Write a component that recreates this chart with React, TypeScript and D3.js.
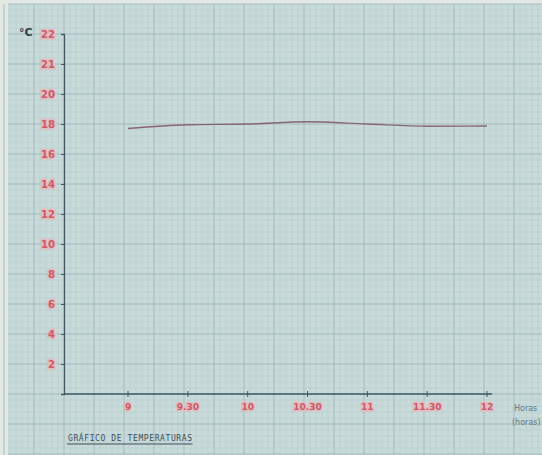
// App.tsx
import React, { useEffect, useRef } from 'react';
import * as d3 from 'd3';

// readings taken from the hand-drawn sheet
const times = [9, 9.5, 10, 10.5, 11, 11.5, 12];
const timeLabels = ['9', '9.30', '10', '10.30', '11', '11.30', '12'];
const temps = [17.7, 17.95, 18.0, 18.15, 18.0, 17.85, 17.87];

// y ticks as written on the paper
const yTickValues = [2, 4, 6, 8, 10, 12, 14, 16, 18, 20, 22, 24];
const yTickLabels = ['2', '4', '6', '8', '10', '12', '14', '16', '18', '20', '21', '22'];

const W = 542;
const H = 455;

const App: React.FC = () => {
  const svgRef = useRef<SVGSVGElement>(null);

  useEffect(() => {
    if (!svgRef.current) return;
    const svg = d3.select(svgRef.current);
    svg.selectAll('*').remove();

    const originX = 64;
    const originY = 394;

    const yScale = d3.scaleLinear().domain([0, 24]).range([originY, 34]);
    // 9h at x=128, 60px per half hour
    const xScale = d3.scaleLinear().domain([9, 12]).range([128, 487]);

    // paper
    svg.append('rect').attr('width', W).attr('height', H).attr('fill', '#c8dada');
    svg.append('rect').attr('width', 8).attr('height', H).attr('fill', '#e2e9e4');
    svg.append('rect').attr('width', W).attr('height', 4).attr('fill', '#e2e9e4');

    // graph paper grid, 6px minor, 30px major
    const grid = svg.append('g');
    const step = 6;
    const xs = d3.range(originX % step, W, step);
    const ys = d3.range(originY % step, H, step);
    const isMajorX = (d: number) => Math.round((d - originX) / step) % 5 === 0;
    const isMajorY = (d: number) => Math.round((originY - d) / step) % 5 === 0;
    grid.selectAll('line.vx')
      .data(xs)
      .join('line')
      .attr('x1', d => d).attr('x2', d => d)
      .attr('y1', 4).attr('y2', H)
      .attr('stroke', d => (isMajorX(d) ? '#9fb7b9' : '#b4c9ca'))
      .attr('stroke-width', d => (isMajorX(d) ? 0.9 : 0.5));
    grid.selectAll('line.hy')
      .data(ys)
      .join('line')
      .attr('x1', 8).attr('x2', W)
      .attr('y1', d => d).attr('y2', d => d)
      .attr('stroke', d => (isMajorY(d) ? '#9fb7b9' : '#b4c9ca'))
      .attr('stroke-width', d => (isMajorY(d) ? 0.9 : 0.5));

    const ink = '#3e5a60';
    const red = '#c95a68';
    const halo = '#e3bcbe';

    // y axis
    const yAxis = svg.append('g').attr('transform', `translate(${originX},0)`)
      .call(
        d3.axisLeft(yScale)
          .tickValues(yTickValues)
          .tickSize(3)
          .tickPadding(6)
          .tickFormat((_, i) => yTickLabels[i])
      );
    yAxis.select('.domain').attr('stroke', ink).attr('stroke-width', 1.3);
    yAxis.selectAll('.tick line').attr('stroke', ink);
    yAxis.selectAll('.tick text')
      .attr('fill', red)
      .attr('font-family', 'DejaVu Sans, sans-serif')
      .attr('font-size', 10)
      .attr('font-weight', 'bold')
      .attr('stroke', halo)
      .attr('stroke-width', 3)
      .attr('paint-order', 'stroke');

    // x axis
    const xAxis = svg.append('g').attr('transform', `translate(0,${originY})`);
    xAxis.append('line')
      .attr('x1', originX).attr('x2', 492)
      .attr('y1', 0).attr('y2', 0)
      .attr('stroke', ink).attr('stroke-width', 1.3);
    const xt = xAxis.selectAll('g.t')
      .data(times)
      .join('g')
      .attr('transform', d => `translate(${xScale(d)},0)`);
    xt.append('line').attr('y1', -3).attr('y2', 3).attr('stroke', ink);
    xt.append('text')
      .attr('y', 16)
      .attr('text-anchor', 'middle')
      .attr('fill', red)
      .attr('font-family', 'DejaVu Sans, sans-serif')
      .attr('font-size', 9)
      .attr('font-weight', 'bold')
      .attr('stroke', halo)
      .attr('stroke-width', 3)
      .attr('paint-order', 'stroke')
      .text((_, i) => timeLabels[i]);

    // axis names
    svg.append('text')
      .attr('x', 19).attr('y', 36)
      .attr('fill', '#2e4048')
      .attr('font-family', 'DejaVu Sans, sans-serif')
      .attr('font-size', 11)
      .attr('font-weight', 'bold')
      .text('°C');
    svg.append('text')
      .attr('x', 514).attr('y', 411)
      .attr('fill', '#607880')
      .attr('font-family', 'DejaVu Sans, sans-serif')
      .attr('font-size', 8)
      .text('Horas');
    svg.append('text')
      .attr('x', 512).attr('y', 425)
      .attr('fill', '#607880')
      .attr('font-family', 'DejaVu Sans, sans-serif')
      .attr('font-size', 8)
      .text('(horas)');

    // temperature line
    const line = d3.line<number>()
      .x((_, i) => xScale(times[i]))
      .y(d => yScale(d))
      .curve(d3.curveMonotoneX);
    svg.append('path')
      .datum(temps)
      .attr('fill', 'none')
      .attr('stroke', '#8a6478')
      .attr('stroke-width', 1.4)
      .attr('d', line);

    // title
    const title = svg.append('text')
      .attr('x', 68).attr('y', 441)
      .attr('fill', '#3e4e56')
      .attr('font-family', 'DejaVu Sans Mono, monospace')
      .attr('font-size', 8)
      .attr('letter-spacing', 0.6)
      .text('GRÁFICO DE TEMPERATURAS');
    const tw = (title.node() as SVGTextElement).getComputedTextLength();
    svg.append('line')
      .attr('x1', 67).attr('x2', 68 + tw)
      .attr('y1', 444).attr('y2', 444)
      .attr('stroke', '#3e4e56').attr('stroke-width', 1);
  }, []);

  return (
    <svg
      ref={svgRef}
      width={W}
      height={H}
      style={{ position: 'fixed', top: 0, left: 0, display: 'block' }}
    />
  );
};

export default App;
